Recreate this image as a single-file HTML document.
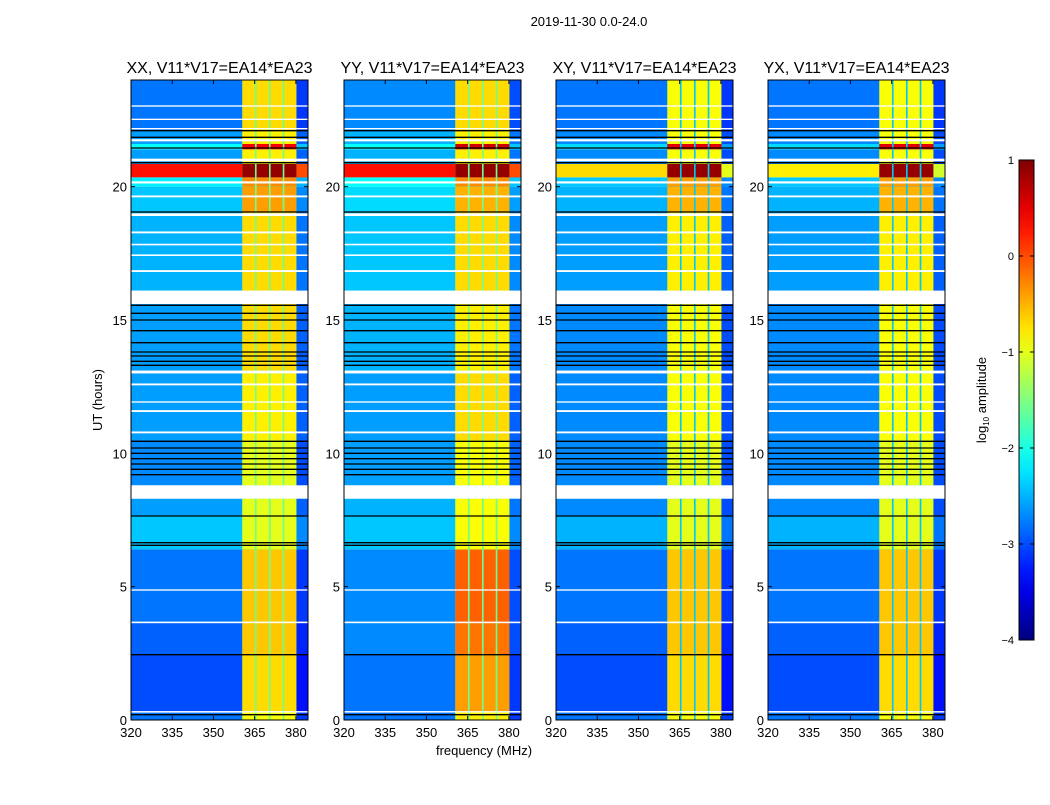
<!DOCTYPE html>
<html><head><meta charset="utf-8">
<style>
body{margin:0;background:#fff;}
svg text{font-family:"Liberation Sans","DejaVu Sans",sans-serif;}
</style></head>
<body>
<svg id="fig" width="1050" height="800" xmlns="http://www.w3.org/2000/svg">
<rect width="1050" height="800" fill="#fff"/>
<text x="589" y="26" font-size="13" text-anchor="middle">2019-11-30 0.0-24.0</text>
<text x="484" y="755" font-size="13" text-anchor="middle">frequency (MHz)</text>
<text x="102" y="400" font-size="13" text-anchor="middle" transform="rotate(-90 102 400)">UT (hours)</text>
<g id="panels"></g>
<g id="cbar"></g>
</svg>
<script>
// ---- data ----
const panelTitles = ["XX, V11*V17=EA14*EA23","YY, V11*V17=EA14*EA23","XY, V11*V17=EA14*EA23","YX, V11*V17=EA14*EA23"];
const xTicks = [320,335,350,365,380];
const yTicks = [0,5,10,15,20];
const cbarTicks = [1,0,-1,-2,-3,-4];
const segStart = [0.0,0.33,2.45,3.65,6.4,7.65,8.8,10.5,13.1,16.1,19.05,20.0,20.35,20.85,21.4,21.6,22.1];
const segEnd   = [0.28,2.45,3.65,6.4,7.65,8.3,10.5,13.0,15.6,19.05,20.0,20.35,20.85,21.4,21.6,22.1,24.0];
const bgXX = [-2.8,-3.0,-2.9,-2.8,-2.4,-2.6,-2.7,-2.6,-2.6,-2.5,-2.4,-2.2,0.3,-2.6,-2.1,-2.6,-2.8];
const bgYY = [-2.8,-2.8,-2.7,-2.7,-2.4,-2.5,-2.6,-2.6,-2.5,-2.4,-2.3,-2.1,0.3,-2.5,-2.1,-2.5,-2.7];
const bgXY = [-2.8,-3.0,-2.9,-2.8,-2.5,-2.7,-2.7,-2.7,-2.7,-2.6,-2.5,-2.4,-0.7,-2.7,-2.3,-2.7,-2.8];
const bgYX = [-2.8,-3.0,-2.9,-2.8,-2.5,-2.7,-2.7,-2.7,-2.7,-2.6,-2.5,-2.4,-0.8,-2.7,-2.3,-2.7,-2.8];
const bandXX = [-0.9,-0.7,-0.6,-0.6,-1.0,-1.0,-1.0,-0.8,-0.7,-0.7,-0.4,-0.3,0.9,-0.8,0.4,-0.8,-0.7];
const bandYY = [-0.8,-0.4,-0.2,-0.1,-0.9,-0.9,-0.9,-0.7,-0.8,-0.7,-0.5,-0.3,0.9,-0.8,0.6,-0.8,-0.7];
const bandXY = [-0.9,-0.7,-0.6,-0.6,-1.0,-1.0,-1.0,-0.9,-0.9,-0.8,-0.5,-0.4,0.9,-0.9,0.5,-0.9,-0.9];
const bandYX = [-0.9,-0.7,-0.6,-0.6,-1.0,-1.0,-1.0,-0.9,-0.9,-0.8,-0.5,-0.4,0.9,-0.9,0.5,-0.9,-0.9];
const bandEdges = [[360.5,365.1],[365.7,370.2],[370.8,375.2],[375.8,380.2]];
const gapLevels = [-1.6,-1.6,-2.4,-2.4];
const whiteStart = [0.28,3.63,4.85,8.3,10.75,11.55,11.9,12.55,13.0,15.6,16.8,17.4,17.8,18.25,18.9,19.6,20.12,20.95,21.7,22.15,22.5,23.0];
const whiteEnd   = [0.33,3.69,4.9,8.8,10.82,11.62,11.95,12.62,13.1,16.1,16.87,17.46,17.86,18.32,19.0,19.67,20.2,21.05,21.78,22.2,22.55,23.05];
const blackLines = [0.2,2.45,6.55,6.65,7.65,9.2,9.4,9.6,9.8,10.0,10.2,10.45,13.3,13.45,13.65,13.8,14.15,14.6,15.0,15.25,15.55,19.05,20.9,21.45,21.85,22.1];

const bgs = [bgXX,bgYY,bgXY,bgYX];
const bands = [bandXX,bandYY,bandXY,bandYX];
const panelLeft = [131,344,556,768];
const PW = 177, TOP = 80, BOT = 720, FMIN = 320, FMAX = 384.4;
const NS = "http://www.w3.org/2000/svg";

function jet(v){
  let t = (v+4)/5; t = Math.max(0,Math.min(1,t));
  const f = x=>Math.max(0,Math.min(1,x));
  const r = f(1.5-Math.abs(4*t-3)), g = f(1.5-Math.abs(4*t-2)), b = f(1.5-Math.abs(4*t-1));
  return `rgb(${Math.round(r*255)},${Math.round(g*255)},${Math.round(b*255)})`;
}
function yS(h){return BOT-(h/24)*(BOT-TOP);}
function el(tag,attrs,parent){const e=document.createElementNS(NS,tag);for(const k in attrs)e.setAttribute(k,attrs[k]);parent.appendChild(e);return e;}

const root = document.getElementById('panels');
panelTitles.forEach((title,p)=>{
  const L = panelLeft[p];
  const xS = f=>L+(f-FMIN)/(FMAX-FMIN)*PW;
  const g = el('g',{},root);
  
  
  el('rect',{x:L,y:TOP,width:PW,height:BOT-TOP,fill:'#fff'},g);
  segStart.forEach((s,i)=>{
    const y0=yS(segEnd[i]), y1=yS(s), h=y1-y0;
    const bg = el('rect',{x:L,y:y0,width:PW,height:h,fill:jet(bgs[p][i])},g);
    
    
    el('rect',{x:xS(bandEdges[0][0]),y:y0,width:xS(bandEdges[3][1])-xS(bandEdges[0][0]),height:h,fill:jet(gapLevels[p])},g);
    bandEdges.forEach(be=>{
      const r = el('rect',{x:xS(be[0]),y:y0,width:xS(be[1])-xS(be[0]),height:h,fill:jet(bands[p][i])},g);
      
      
    });
    el('rect',{x:xS(380.2),y:y0,width:L+PW-xS(380.2),height:h,fill:jet(bgs[p][i]-0.3)},g);
  });
  whiteStart.forEach((s,i)=>{
    const r=el('rect',{x:L,y:yS(whiteEnd[i]),width:PW,height:yS(s)-yS(whiteEnd[i]),fill:'#fff'},g);
    
    
  });
  blackLines.forEach(h=>{
    const l=el('line',{x1:L,x2:L+PW,y1:yS(h),y2:yS(h),stroke:'#000','stroke-width':1.3},g);
    
    
  });
  el('rect',{x:L,y:TOP,width:PW,height:BOT-TOP,fill:'none',stroke:'#000','stroke-width':1},g);
  const t=el('text',{x:L+PW/2,y:TOP-7,'font-size':16,'text-anchor':'middle'},g);
  t.textContent=title;
  
  
  xTicks.forEach(v=>{
    const x=xS(v);
    el('line',{x1:x,x2:x,y1:BOT,y2:BOT-4,stroke:'#000'},g);
    el('line',{x1:x,x2:x,y1:TOP,y2:TOP+4,stroke:'#000'},g);
    const tx=el('text',{x:x,y:BOT+17,'font-size':13,'text-anchor':'middle'},g);
    tx.textContent=v;
    
    
  });
  yTicks.forEach(v=>{
    const y=yS(v);
    el('line',{x1:L,x2:L+4,y1:y,y2:y,stroke:'#000'},g);
    el('line',{x1:L+PW,x2:L+PW-4,y1:y,y2:y,stroke:'#000'},g);
    const ty=el('text',{x:L-4,y:y+5,'font-size':13,'text-anchor':'end'},g);
    ty.textContent=v;
    
    
  });
});

// colorbar
const cb = document.getElementById('cbar');


const CX=1019, CW=15, CT=160, CB=640;
const defs=el('defs',{},cb);
const grad=el('linearGradient',{id:'jetg',x1:0,y1:1,x2:0,y2:0},defs);
for(let i=0;i<=20;i++){el('stop',{offset:i/20,'stop-color':jet(-4+5*i/20)},grad);}
el('rect',{x:CX,y:CT,width:CW,height:CB-CT,fill:'url(#jetg)',stroke:'#000','stroke-width':1},cb);
cbarTicks.forEach(v=>{
  const y=CB-(v+4)/5*(CB-CT);
  el('line',{x1:CX,x2:CX+4,y1:y,y2:y,stroke:'#000'},cb);
  el('line',{x1:CX+CW,x2:CX+CW-4,y1:y,y2:y,stroke:'#000'},cb);
  const t=el('text',{x:CX-5,y:y+4,'font-size':11,'text-anchor':'end'},cb);
  t.textContent=(v<0?'\u2212':'')+Math.abs(v);
  
  
});
const lab=el('text',{x:986,y:400,'font-size':13,'text-anchor':'middle',transform:'rotate(-90 986 400)'},cb);


lab.innerHTML='log<tspan font-size="8" dy="3">10</tspan><tspan dy="-3"> amplitude</tspan>';
</script>
</body></html>
